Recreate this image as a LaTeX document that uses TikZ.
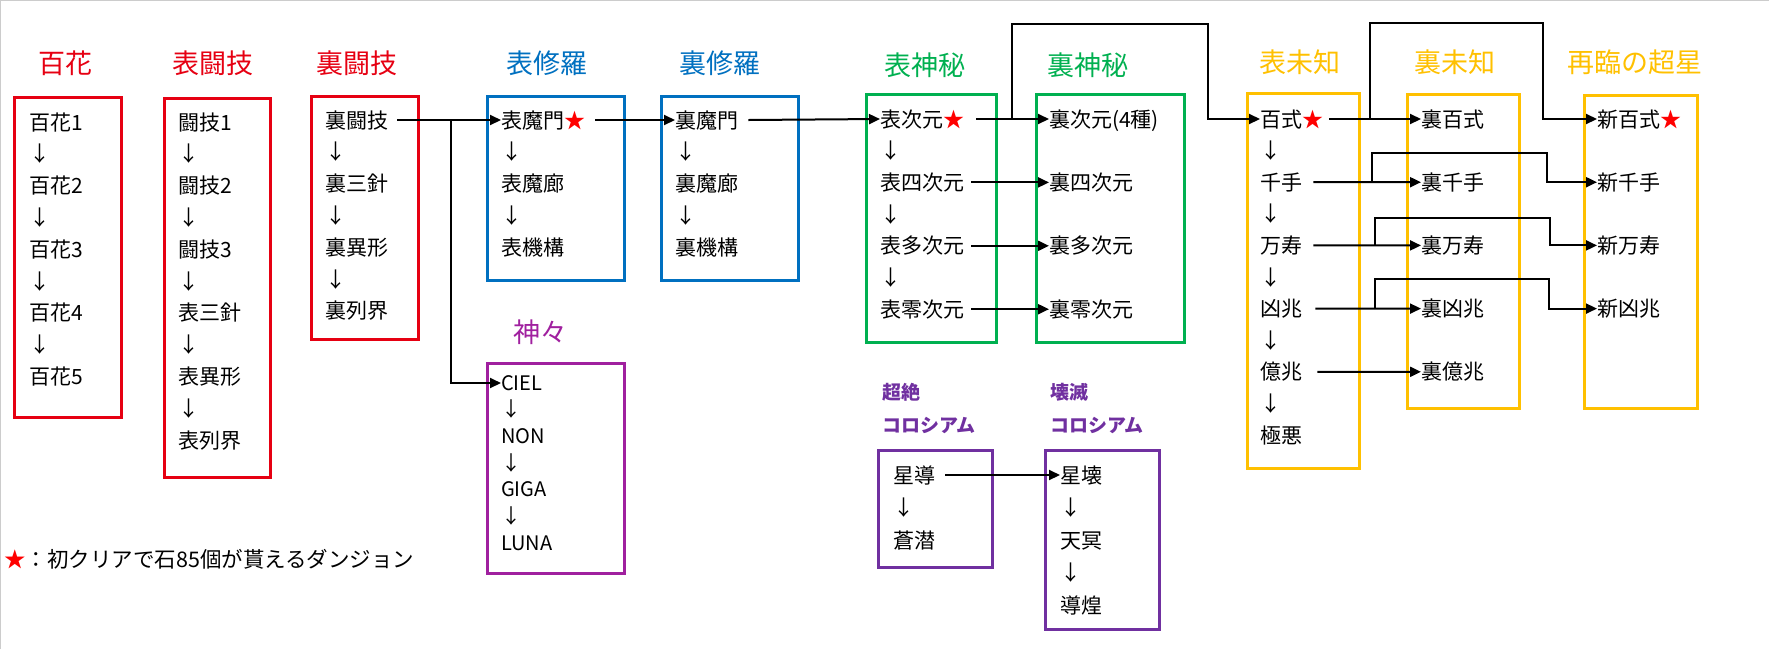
\documentclass[tikz,border=0pt]{standalone}
\usepackage{fontspec}
\setmainfont{Noto Sans CJK JP}
\usetikzlibrary{arrows.meta}
\definecolor{cred}{HTML}{E60012}
\definecolor{cblue}{HTML}{0070C0}
\definecolor{cgreen}{HTML}{00B050}
\definecolor{cgold}{HTML}{FFC000}
\definecolor{cmag}{HTML}{A0209F}
\definecolor{cpur}{HTML}{7030A0}
\begin{document}
\begin{tikzpicture}[x=1pt,y=-1pt,
  item/.style={anchor=west, inner sep=0pt, font=\fontsize{21}{25}\selectfont, text height=18pt, text depth=2pt},
  sitem/.style={anchor=west, inner sep=0pt, font=\fontsize{20}{24}\selectfont, text height=16pt, text depth=2pt},
  title/.style={inner sep=0pt, font=\fontsize{27}{32}\selectfont},
  lab/.style={anchor=west, inner sep=0pt, font=\fontsize{19}{23}\selectfont\bfseries, text=cpur},
  frame/.style={draw, line width=3pt, anchor=north west, inner sep=0pt},
  conn/.style={line width=2pt, -{Triangle[length=11pt,width=10pt]}},
]
\useasboundingbox (0,0) rectangle (1769,649);
\draw[black!20, line width=1pt] (0.5,649) -- (0.5,0.5) -- (1769,0.5);

% ---------- frames ----------
\node[frame, draw=cred, minimum width=107pt, minimum height=320pt] (bHyakka) at (13,96) {};
\node[frame, draw=cred, minimum width=106pt, minimum height=379pt] (bOTogi) at (163,97) {};
\node[frame, draw=cred, minimum width=107pt, minimum height=243pt] (bUTogi) at (310,95) {};
\node[frame, draw=cblue, minimum width=137pt, minimum height=184pt] (bOShura) at (486,95) {};
\node[frame, draw=cblue, minimum width=137pt, minimum height=184pt] (bUShura) at (660,95) {};
\node[frame, draw=cmag, minimum width=137pt, minimum height=210pt] (bKami) at (486,362) {};
\node[frame, draw=cgreen, minimum width=130pt, minimum height=248pt] (bOShinpi) at (865,93) {};
\node[frame, draw=cgreen, minimum width=148pt, minimum height=248pt] (bUShinpi) at (1035,93) {};
\node[frame, draw=cgold, minimum width=112pt, minimum height=375pt] (bOMichi) at (1246,92) {};
\node[frame, draw=cgold, minimum width=112pt, minimum height=314pt] (bUMichi) at (1406,93) {};
\node[frame, draw=cgold, minimum width=113pt, minimum height=313pt] (bSairin) at (1583,94) {};
\node[frame, draw=cpur, minimum width=114pt, minimum height=117pt] (bChou) at (877,449) {};
\node[frame, draw=cpur, minimum width=114pt, minimum height=179pt] (bKai) at (1044,449) {};

% ---------- titles ----------
\node[title, text=cred] (tHyakka) at (65,63) {百花};
\node[title, text=cred] (tOTogi) at (213,63) {表闘技};
\node[title, text=cred] (tUTogi) at (357,63) {裏闘技};
\node[title, text=cblue] (tOShura) at (547,63) {表修羅};
\node[title, text=cblue] (tUShura) at (720,63) {裏修羅};
\node[title, text=cmag] (tKami) at (540,332) {神々};
\node[title, text=cgreen] (tOShinpi) at (925,65) {表神秘};
\node[title, text=cgreen] (tUShinpi) at (1088,65) {裏神秘};
\node[title, text=cgold] (tOMichi) at (1300,62) {表未知};
\node[title, text=cgold] (tUMichi) at (1455,62) {裏未知};
\node[title, text=cgold] (tSairin) at (1635,62) {再臨の超星};
\node[lab] (lChou1) at (882,392) {超絶};
\node[lab] (lChou2) at (882,425) {コロシアム};
\node[lab] (lKai1) at (1050,392) {壊滅};
\node[lab] (lKai2) at (1050,425) {コロシアム};

% ---------- items ----------
\foreach \t [count=\i from 0] in {百花1,↓,百花2,↓,百花3,↓,百花4,↓,百花5}
  \node[item] (h\i) at (29,{122+31.8*\i}) {\t};
\foreach \t [count=\i from 0] in {闘技1,↓,闘技2,↓,闘技3,↓,表三針,↓,表異形,↓,表列界}
  \node[item] (ot\i) at (178,{122+31.8*\i}) {\t};
\foreach \t [count=\i from 0] in {裏闘技,↓,裏三針,↓,裏異形,↓,裏列界}
  \node[item] (ut\i) at (325,{120+31.8*\i}) {\t};
\foreach \t [count=\i from 0] in {表魔門\textcolor{red}{★},↓,表魔廊,↓,表機構}
  \node[item] (os\i) at (501,{120+31.8*\i}) {\t};
\foreach \t [count=\i from 0] in {裏魔門,↓,裏魔廊,↓,裏機構}
  \node[item] (us\i) at (675,{120+31.8*\i}) {\t};
\foreach \t [count=\i from 0] in {CIEL,↓,NON,↓,GIGA,↓,LUNA}
  \node[sitem] (k\i) at (501,{383+26.7*\i}) {\t};
\foreach \t [count=\i from 0] in {表次元\textcolor{red}{★},↓,表四次元,↓,表多次元,↓,表零次元}
  \node[item] (ps\i) at (880,{119+31.7*\i}) {\t};
\foreach \t [count=\i from 0] in {裏次元(4種),裏四次元,裏多次元,裏零次元}
  \node[item] (qs\i) at (1049,{119+63.4*\i}) {\t};
\foreach \t [count=\i from 0] in {百式\textcolor{red}{★},↓,千手,↓,万寿,↓,凶兆,↓,億兆,↓,極悪}
  \node[item] (m\i) at (1260,{119+31.6*\i}) {\t};
\foreach \t [count=\i from 0] in {裏百式,裏千手,裏万寿,裏凶兆,裏億兆}
  \node[item] (um\i) at (1421,{119+63.2*\i}) {\t};
\foreach \t [count=\i from 0] in {新百式\textcolor{red}{★},新千手,新万寿,新凶兆}
  \node[item] (n\i) at (1597,{119+63.2*\i}) {\t};
\foreach \t [count=\i from 0] in {星導,↓,蒼潜}
  \node[item] (c\i) at (893,{475+32.5*\i}) {\t};
\foreach \t [count=\i from 0] in {星壊,↓,天冥,↓,導煌}
  \node[item] (d\i) at (1060,{475+32.5*\i}) {\t};

\node[anchor=west, inner sep=0pt, font=\fontsize{21.5}{25}\selectfont] (legend) at (4,559)
  {\textcolor{red}{★}：初クリアで石85個が貰えるダンジョン};

% ---------- connectors ----------
\coordinate (j1) at (451,120);
\draw[conn] ([xshift=9pt]ut0.east) -- (os0.west);
\draw[conn] (j1) |- (k0.west);
\draw[conn] ([xshift=10pt]os0.east) -- (us0.west);
\draw[conn] ([xshift=10pt]us0.east) -- (ps0.west);

\coordinate (j2) at (1012,119);
\coordinate (t2) at (1208,24);
\draw[conn] ([xshift=12pt]ps0.east) -- (qs0.west);
\draw[conn] (j2) |- (t2) |- (m0.west);
\draw[conn] ([xshift=7pt]ps2.east) -- (qs1.west);
\draw[conn] ([xshift=7pt]ps4.east) -- (qs2.west);
\draw[conn] ([xshift=7pt]ps6.east) -- (qs3.west);

\coordinate (j3) at (1370,119);
\coordinate (t3) at (1543,23);
\draw[conn] ([xshift=6pt]m0.east) -- (um0.west);
\draw[conn] (j3) |- (t3) |- (n0.west);

\coordinate (j4) at (1372,182.2);
\coordinate (t4) at (1547,153);
\draw[conn] ([xshift=11pt]m2.east) -- (um1.west);
\draw[conn] (j4) |- (t4) |- (n1.west);

\coordinate (j5) at (1375,245.4);
\coordinate (t5) at (1550,218);
\draw[conn] ([xshift=11pt]m4.east) -- (um2.west);
\draw[conn] (j5) |- (t5) |- (n2.west);

\coordinate (j6) at (1375,308.6);
\coordinate (t6) at (1549,279);
\draw[conn] ([xshift=13pt]m6.east) -- (um3.west);
\draw[conn] (j6) |- (t6) |- (n3.west);

\draw[conn] ([xshift=15pt]m8.east) -- (um4.west);

\draw[conn] ([xshift=10pt]c0.east) -- (d0.west);
\end{tikzpicture}
\end{document}
